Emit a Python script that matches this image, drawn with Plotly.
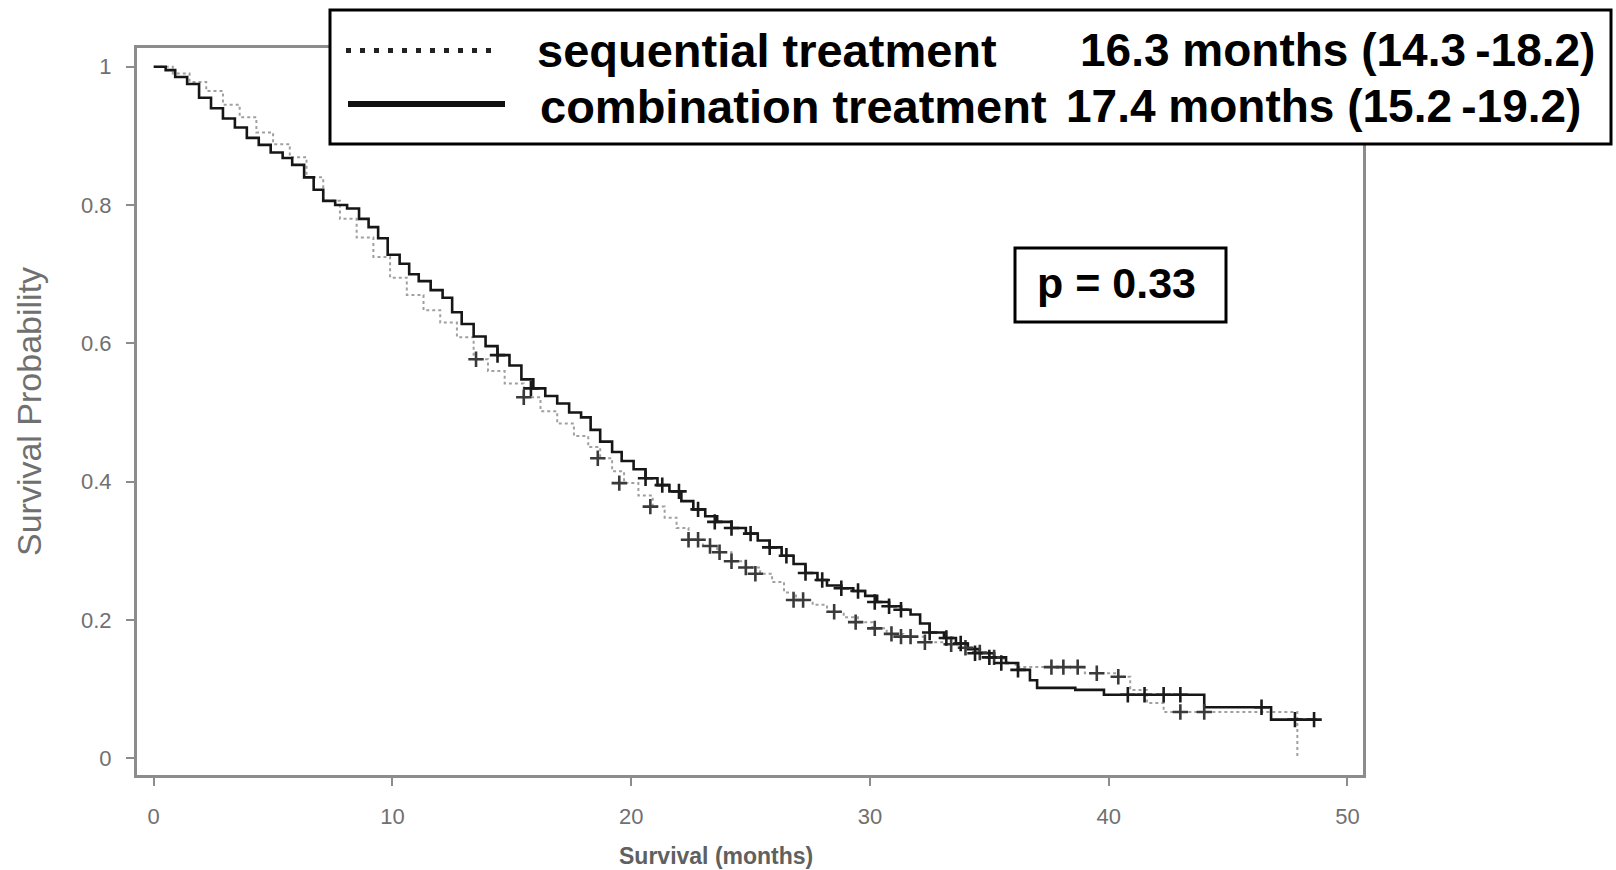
import plotly.graph_objects as go

# ---------------- data ----------------
comb_time = [0, 0.5, 0.9, 1.4, 1.9, 2.4, 2.9, 3.4, 3.9, 4.4, 4.9, 5.4, 5.8, 6.3, 6.7, 7.1, 7.6, 8.1,
             8.6, 9.0, 9.4, 9.8, 10.3, 10.7, 11.1, 11.6, 12.1, 12.5, 12.9, 13.4, 13.9, 14.4, 14.9,
             15.4, 15.9, 16.4, 16.9, 17.4, 17.9, 18.3, 18.7, 19.2, 19.6, 20.1, 20.6, 21.1, 21.6,
             22.1, 22.6, 23.1, 23.6, 24.2, 24.8, 25.3, 25.8, 26.3, 26.8, 27.3, 27.8, 28.2, 28.8,
             29.3, 29.8, 30.3, 30.8, 31.3, 31.7, 32.1, 32.5, 33.1, 33.6, 34.1, 34.6, 35.2, 35.7,
             36.2, 36.7, 37.0, 38.6, 39.8, 44.0, 46.8, 48.7]
comb_surv = [1.0, 0.995, 0.985, 0.975, 0.955, 0.94, 0.925, 0.912, 0.897, 0.887, 0.876, 0.868, 0.858,
             0.84, 0.822, 0.806, 0.80, 0.795, 0.78, 0.768, 0.752, 0.728, 0.715, 0.70, 0.69, 0.677,
             0.666, 0.645, 0.628, 0.61, 0.596, 0.583, 0.568, 0.548, 0.535, 0.524, 0.513, 0.50, 0.493,
             0.475, 0.458, 0.443, 0.43, 0.418, 0.405, 0.395, 0.386, 0.372, 0.36, 0.35, 0.342, 0.333,
             0.325, 0.315, 0.305, 0.293, 0.281, 0.268, 0.258, 0.25, 0.246, 0.242, 0.235, 0.226, 0.22,
             0.215, 0.208, 0.195, 0.182, 0.174, 0.166, 0.158, 0.152, 0.146, 0.138, 0.128, 0.113,
             0.102, 0.099, 0.092, 0.074, 0.056, 0.056]

seq_time = [0, 0.8, 1.5, 2.2, 2.9, 3.6, 4.3, 5.0, 5.7, 6.4, 7.1, 7.8, 8.5, 9.2, 9.9, 10.6, 11.3, 12.0,
            12.7, 13.4, 14.0, 14.7, 15.5, 16.2, 16.9, 17.6, 18.2, 18.7, 19.2, 19.7, 20.3, 20.9, 21.4,
            21.9, 22.4, 23.0, 23.6, 24.2, 24.8, 25.4, 25.9, 26.4, 26.9, 27.6, 28.2, 28.9, 29.5, 30.1,
            30.7, 31.4, 32.3, 33.1, 33.7, 34.4, 35.0, 35.6, 36.1, 39.0, 40.4, 40.9, 41.6, 42.3, 47.9]
seq_surv = [1.0, 0.99, 0.978, 0.965, 0.945, 0.927, 0.905, 0.888, 0.869, 0.84, 0.806, 0.78, 0.753,
            0.725, 0.695, 0.67, 0.648, 0.63, 0.609, 0.577, 0.56, 0.542, 0.522, 0.502, 0.484, 0.466,
            0.45, 0.434, 0.415, 0.398, 0.38, 0.364, 0.348, 0.333, 0.316, 0.307, 0.298, 0.285, 0.276,
            0.267, 0.255, 0.24, 0.229, 0.222, 0.212, 0.204, 0.197, 0.188, 0.18, 0.176, 0.168, 0.165,
            0.16, 0.153, 0.146, 0.138, 0.132, 0.123, 0.118, 0.099, 0.08, 0.067, 0.0]

comb_cens_t = [14.4, 15.8, 20.6, 21.3, 22.0, 22.8, 23.5, 24.2, 25.0, 25.8, 26.5, 27.3, 28.0, 28.8,
               29.5, 30.2, 30.8, 31.3, 32.5, 33.2, 33.8, 34.4, 35.0, 35.5, 36.2, 40.8, 41.5, 42.3,
               43.0, 46.4, 47.8, 48.6]
comb_cens_s = [0.583, 0.535, 0.405, 0.395, 0.386, 0.36, 0.342, 0.333, 0.325, 0.305, 0.293, 0.268,
               0.258, 0.246, 0.242, 0.226, 0.22, 0.215, 0.182, 0.174, 0.166, 0.152, 0.146, 0.138,
               0.128, 0.092, 0.092, 0.092, 0.092, 0.074, 0.056, 0.056]

seq_cens_t = [13.5, 15.5, 18.6, 19.5, 20.8, 22.4, 22.8, 23.3, 23.7, 24.2, 24.8, 25.2, 26.8, 27.2,
              28.5, 29.4, 30.2, 30.9, 31.3, 31.7, 32.3, 33.4, 34.0, 34.6, 35.2, 37.6, 38.1, 38.7,
              39.5, 40.4, 43.0, 44.0]
seq_cens_s = [0.577, 0.522, 0.434, 0.398, 0.364, 0.316, 0.316, 0.307, 0.298, 0.285, 0.276, 0.267,
              0.229, 0.229, 0.212, 0.197, 0.188, 0.18, 0.176, 0.176, 0.168, 0.165, 0.16, 0.153,
              0.146, 0.132, 0.132, 0.132, 0.123, 0.118, 0.067, 0.067]

x_ticks = [0, 10, 20, 30, 40, 50]
y_ticks = [0, 0.2, 0.4, 0.6, 0.8, 1]
y_tick_labels = ["0", "0.2", "0.4", "0.6", "0.8", "1"]

legend_names = ["sequential treatment", "combination treatment"]
legend_medians = ["16.3 months (14.3\u2009-18.2)", "17.4 months (15.2\u2009-19.2)"]
p_text = "p = 0.33"

# ---------------- layout helpers ----------------
W, H = 1616, 870
L, R, T, B = 137, 253, 48, 95
PW, PH = W - L - R, H - T - B


def px(x):
    return (x - L) / PW


def py(y):
    return (H - B - y) / PH


fig = go.Figure()

fig.add_trace(go.Scatter(x=seq_time, y=seq_surv, mode="lines", line_shape="hv",
                         line=dict(color="#a0a0a0", width=2, dash="dot"), showlegend=False,
                         hoverinfo="skip"))
fig.add_trace(go.Scatter(x=comb_time, y=comb_surv, mode="lines", line_shape="hv",
                         line=dict(color="#161616", width=2.6), showlegend=False,
                         hoverinfo="skip"))
fig.add_trace(go.Scatter(x=seq_cens_t, y=seq_cens_s, mode="markers",
                         marker=dict(symbol="cross-thin", size=11,
                                     line=dict(color="#3a3a3a", width=2.6)),
                         showlegend=False, hoverinfo="skip"))
fig.add_trace(go.Scatter(x=comb_cens_t, y=comb_cens_s, mode="markers",
                         marker=dict(symbol="cross-thin", size=11,
                                     line=dict(color="#1a1a1a", width=2.6)),
                         showlegend=False, hoverinfo="skip"))

axis_common = dict(showline=True, linecolor="#8c8c8c", linewidth=3, mirror=True,
                   ticks="outside", ticklen=8, tickwidth=2, tickcolor="#8c8c8c",
                   showgrid=False, zeroline=False,
                   tickfont=dict(family="Liberation Sans, Arial", size=22, color="#707070"))

fig.update_xaxes(range=[-0.7, 50.65], tickvals=x_ticks, ticklabelstandoff=12, **axis_common)
fig.update_yaxes(range=[-0.024, 1.027], tickvals=y_ticks, ticktext=y_tick_labels,
                 ticklabelstandoff=10, **axis_common)

shapes = [
    # legend box
    dict(type="rect", xref="paper", yref="paper", x0=px(330), x1=px(1611), y0=py(144), y1=py(10),
         line=dict(color="black", width=3), fillcolor="white", layer="above"),
    # legend samples
    dict(type="line", xref="paper", yref="paper", x0=px(346), x1=px(500), y0=py(50.5), y1=py(50.5),
         line=dict(color="#222", width=5, dash="5px,9px"), layer="above"),
    dict(type="line", xref="paper", yref="paper", x0=px(348), x1=px(505), y0=py(104), y1=py(104),
         line=dict(color="#111", width=6), layer="above"),
    # p-value box
    dict(type="rect", xref="paper", yref="paper", x0=px(1015), x1=px(1226), y0=py(322), y1=py(248),
         line=dict(color="black", width=3), fillcolor="white", layer="above"),
]

name_font = dict(family="Liberation Sans, Arial", size=47, color="black")
med_font = dict(family="Liberation Sans, Arial", size=46, color="black")
annotations = [
    dict(text="<b>%s</b>" % legend_names[0], x=px(535), y=py(50), xanchor="left", yanchor="middle",
         font=name_font),
    dict(text="<b>%s</b>" % legend_names[1], x=px(538), y=py(106), xanchor="left", yanchor="middle",
         font=name_font),
    dict(text="<b>%s</b>" % legend_medians[0], x=px(1078), y=py(50), xanchor="left", yanchor="middle",
         font=med_font),
    dict(text="<b>%s</b>" % legend_medians[1], x=px(1064), y=py(106), xanchor="left", yanchor="middle",
         font=med_font),
    dict(text="<b>%s</b>" % p_text, x=px(1116), y=py(283), xanchor="center", yanchor="middle",
         font=dict(family="Liberation Sans, Arial", size=43, color="black")),
    dict(text="Survival Probability", x=px(29), y=py(412), xanchor="center", yanchor="middle",
         textangle=-90, font=dict(family="Liberation Sans, Arial", size=34, color="#707070")),
    dict(text="<b>Survival (months)</b>", x=px(716), y=py(856), xanchor="center", yanchor="middle",
         font=dict(family="Liberation Sans, Arial", size=23, color="#606060")),
]
for a in annotations:
    a.update(xref="paper", yref="paper", showarrow=False)

fig.update_layout(width=W, height=H, margin=dict(l=L, r=R, t=T, b=B),
                  paper_bgcolor="white", plot_bgcolor="white",
                  shapes=shapes, annotations=annotations, showlegend=False)

fig.write_html("out.html")
